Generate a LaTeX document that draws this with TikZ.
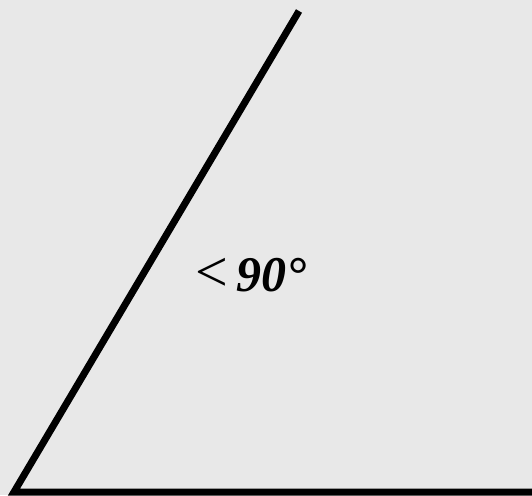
\documentclass[tikz,border=0pt]{standalone}
\usepackage{fontspec}
\setmainfont{Liberation Serif}
\definecolor{bgpaper}{RGB}{232,232,232}
\begin{document}
\begin{tikzpicture}[x=1pt,y=-1pt,
  armline/.style={line width=7pt, black, line join=miter, line cap=butt},
  anglelabel/.style={font=\fontsize{50}{60}\selectfont, inner sep=0pt}]
\fill[bgpaper] (0,0) rectangle (532,495);
\useasboundingbox (0,0) rectangle (532,495);
\coordinate (top) at (299,11);
\coordinate (vertex) at (14,492);
\coordinate (right) at (535,492);
\draw[armline] (top) -- (vertex) -- (right);
\node[anglelabel] (lbl) at (251,275) {{\fontsize{58}{60}\selectfont<}\hspace{9pt}\textbf{\textit{90°}}};
\end{tikzpicture}
\end{document}
